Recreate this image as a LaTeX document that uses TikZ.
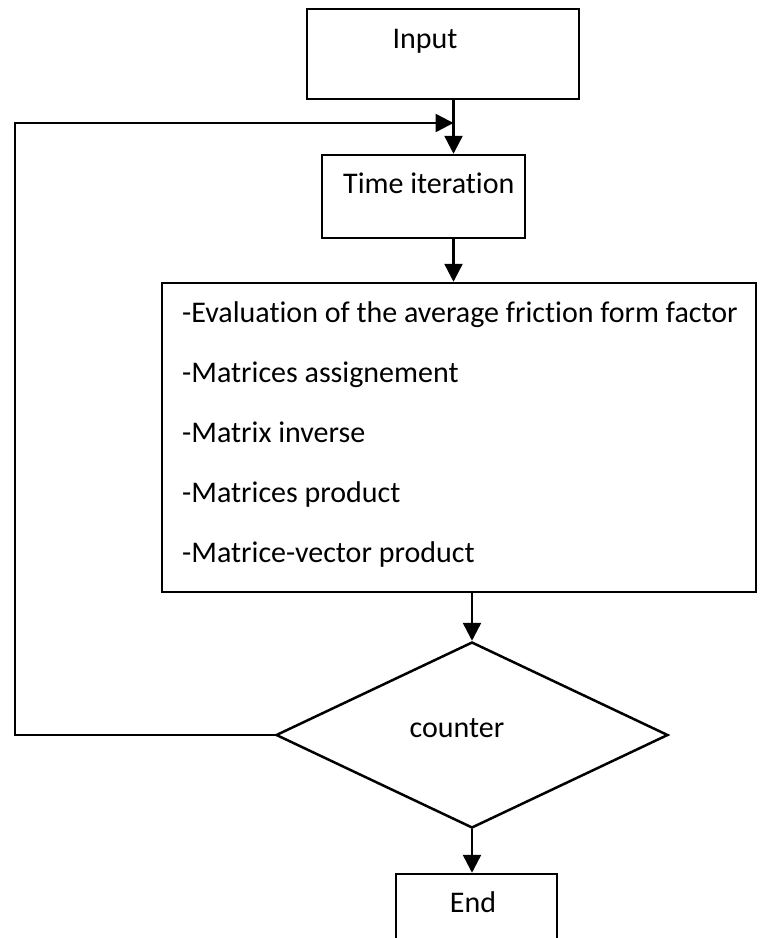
\documentclass[tikz,border=0pt]{standalone}
\usepackage{fontspec}
\setmainfont[Ligatures=NoCommon]{Carlito}
\usetikzlibrary{shapes.geometric,arrows.meta}
\tikzset{
  boxstyle/.style={draw, line width=2.5pt, rectangle, inner sep=0pt},
  decstyle/.style={draw, line width=2.5pt, diamond, inner sep=0pt},
  txt/.style={inner sep=0pt, font=\fontsize{30}{36}\selectfont},
  flow/.style={line width=2.5pt, -{Triangle[length=18pt,width=18pt]}}
}
\begin{document}
\begin{tikzpicture}[x=1pt,y=-1pt]
\useasboundingbox (0,0) rectangle (762,938);
\clip (0,0) rectangle (762,938);
\fill[white] (0,0) rectangle (762,938);

% boxes of the flow
\node[boxstyle, minimum width=272pt, minimum height=90pt] (input) at (443,54) {};
\node[boxstyle, minimum width=203pt, minimum height=83pt] (time) at (423.5,196.5) {};
\node[boxstyle, minimum width=594pt, minimum height=309pt] (ops) at (459,437.5) {};
\node[decstyle, minimum width=392pt, minimum height=186pt] (dec) at (472,735) {};
\node[boxstyle, minimum width=161pt, minimum height=120pt] (finish) at (476.5,934) {};

% texts
\node[txt, anchor=base] (tinput) at (425,48) {Input};
\node[txt, anchor=base west] (ttime) at (343,193) {Time iteration};
\node[txt, anchor=base west] (op1) at (182,322) {-Evaluation of the average friction form factor};
\node[txt, anchor=base west] (op2) at (182,382) {-Matrices assignement};
\node[txt, anchor=base west] (op3) at (182,442) {-Matrix inverse};
\node[txt, anchor=base west] (op4) at (182,502) {-Matrices product};
\node[txt, anchor=base west] (op5) at (182,562) {-Matrice-vector product};
\node[txt, anchor=base] (tdec) at (457,737) {counter};
\node[txt, anchor=base] (tend) at (473,912) {End};

% vertical spines of the connectors
\coordinate (spineA) at (453.5,0);
\coordinate (merge) at (453.5,123);
\coordinate (loopcorner) at (15,735);

% connectors
\draw[flow] (input.south -| spineA) -- (time.north -| spineA);
\draw[flow] (time.south -| spineA) -- (ops.north -| spineA);
\draw[flow] (ops.south -| dec.north) -- (dec.north);
\draw[flow] (dec.south) -- (finish.north -| dec.south);
\draw[flow] (dec.west) -- (loopcorner) |- (merge);
\end{tikzpicture}
\end{document}
